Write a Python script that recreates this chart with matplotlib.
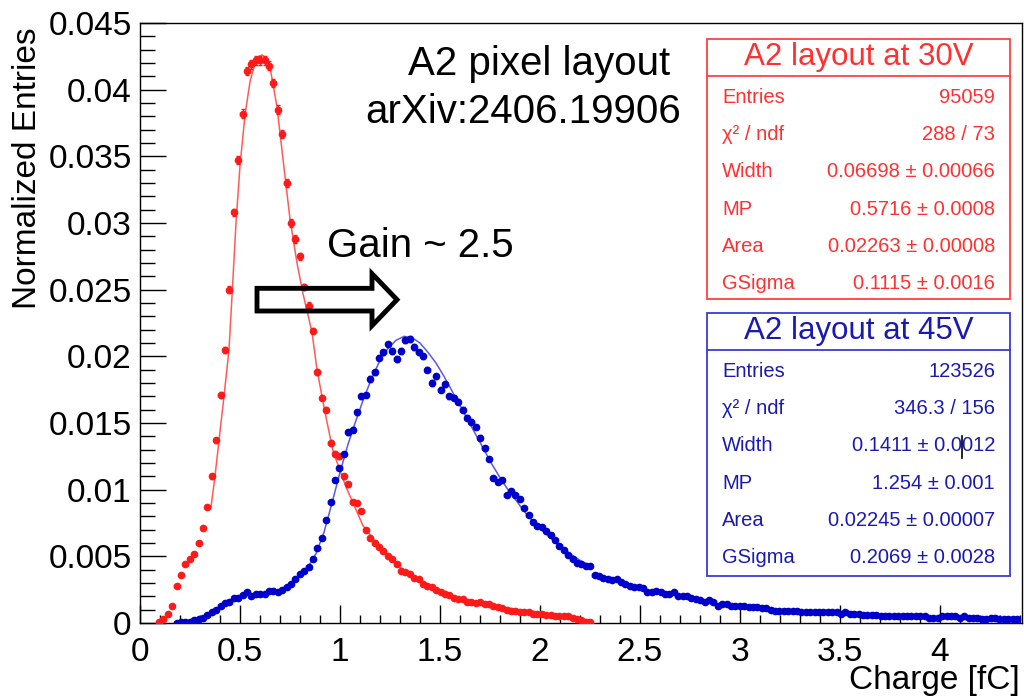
import numpy as np
import matplotlib
matplotlib.use("Agg")
import matplotlib.pyplot as plt
from matplotlib.patches import Rectangle, FancyArrow
from matplotlib.lines import Line2D
from matplotlib.ticker import MultipleLocator

plt.rcParams['font.family'] = ['Liberation Sans', 'DejaVu Sans']

# histogram binning (bin centres c_k = first_center + k * bin_width)
first_center = 0.095
bin_width = 0.022

# A2 layout at 30V, normalized entries, starting at bin k=0
red_start = 0
red_y = [
    0.0001, 0.0003, 0.0007, 0.0013, 0.0028, 0.0036, 0.0044, 0.0048, 0.0052, 0.0060,
    0.0071, 0.0087, 0.0110, 0.0137, 0.0171, 0.0205, 0.0250, 0.0308, 0.0347, 0.0382,
    0.0414, 0.0419, 0.0422, 0.0422, 0.0422, 0.0418, 0.0405, 0.0385, 0.0367, 0.0330,
    0.0300, 0.0288, 0.0275, 0.0252, 0.0238, 0.0219, 0.0188, 0.0169, 0.0160, 0.0135,
    0.0127, 0.0125, 0.0110, 0.0104, 0.0091, 0.0090, 0.0084, 0.0070, 0.0064, 0.0060,
    0.0057, 0.0054, 0.0050, 0.0048, 0.0044, 0.0039, 0.0038, 0.0037, 0.0034, 0.0033,
    0.0029, 0.0028, 0.0027, 0.0025, 0.0023, 0.0022, 0.0021, 0.0019, 0.0018, 0.0018,
    0.0016, 0.0016, 0.0015, 0.0016, 0.0014, 0.0014, 0.0013, 0.0012, 0.0011, 0.0010,
    0.0009, 0.0009, 0.0008, 0.0008, 0.0008, 0.0007, 0.0007, 0.0007, 0.0006, 0.0006,
    0.0005, 0.0005, 0.0005, 0.0005, 0.0004, 0.0003, 0.0002, 0.0001, 0.0001,
]

# A2 layout at 45V, starting at bin k=4
blue_start = 4
blue_y = [
    0.0000, 0.0001, 0.0001, 0.0001, 0.0002, 0.0003, 0.0004, 0.0006, 0.0008, 0.0010,
    0.0013, 0.0015, 0.0016, 0.0019, 0.0019, 0.0021, 0.0023, 0.0020, 0.0022, 0.0022,
    0.0022, 0.0024, 0.0024, 0.0023, 0.0025, 0.0027, 0.0029, 0.0033, 0.0037, 0.0039,
    0.0042, 0.0048, 0.0056, 0.0064, 0.0077, 0.0091, 0.0107, 0.0116, 0.0127, 0.0143,
    0.0145, 0.0158, 0.0170, 0.0171, 0.0183, 0.0188, 0.0199, 0.0203, 0.0209, 0.0204,
    0.0198, 0.0204, 0.0212, 0.0213, 0.0207, 0.0203, 0.0200, 0.0190, 0.0180, 0.0185,
    0.0175, 0.0179, 0.0170, 0.0169, 0.0166, 0.0160, 0.0154, 0.0151, 0.0147, 0.0139,
    0.0131, 0.0123, 0.0109, 0.0106, 0.0107, 0.0096, 0.0099, 0.0096, 0.0093, 0.0086,
    0.0081, 0.0076, 0.0073, 0.0072, 0.0069, 0.0066, 0.0062, 0.0058, 0.0055, 0.0051,
    0.0048, 0.0045, 0.0044, 0.0043, 0.0043, 0.0036, 0.0035, 0.0034, 0.0033, 0.0032,
    0.0033, 0.0031, 0.0029, 0.0028, 0.0027, 0.0027, 0.0026, 0.0023, 0.0023, 0.0024,
    0.0023, 0.0022, 0.0022, 0.0023, 0.0020, 0.0020, 0.0020, 0.0019, 0.0018, 0.0017,
    0.0016, 0.0017, 0.0016, 0.0013, 0.0014, 0.0014, 0.0013, 0.0013, 0.0013, 0.0013,
    0.0012, 0.0012, 0.0012, 0.0011, 0.0011, 0.0010, 0.0009, 0.0009, 0.0009, 0.0009,
    0.0009, 0.0009, 0.0008, 0.0008, 0.0008, 0.0008, 0.0008, 0.0008, 0.0008, 0.0008,
    0.0008, 0.0007, 0.0008, 0.0007, 0.0007, 0.0007, 0.0006, 0.0006, 0.0006, 0.0006,
    0.0005, 0.0005, 0.0005, 0.0005, 0.0005, 0.0005, 0.0005, 0.0005, 0.0005, 0.0005,
    0.0005, 0.0004, 0.0004, 0.0004, 0.0005, 0.0005, 0.0005, 0.0005, 0.0004, 0.0005,
    0.0004, 0.0004, 0.0004, 0.0003, 0.0003, 0.0004, 0.0004, 0.0003, 0.0003, 0.0003,
    0.0003, 0.0003,
]

# fitted Landau x Gauss curves
red_fit_x = [0.355, 0.375, 0.395, 0.42, 0.445, 0.46, 0.48, 0.50, 0.525, 0.55, 0.575,
             0.595, 0.61, 0.63, 0.65, 0.685, 0.725, 0.75, 0.785, 0.815, 0.86, 0.885,
             0.925, 0.965, 1.03, 1.115, 1.215, 1.335, 1.435, 1.55, 1.7, 1.85, 2.0]
red_fit_y = [0.0087, 0.0110, 0.0137, 0.0170, 0.0205, 0.0245, 0.0300, 0.0343, 0.0381,
             0.0406, 0.0420, 0.0425, 0.0426, 0.0424, 0.0417, 0.0387, 0.0335, 0.0303,
             0.0270, 0.0247, 0.0218, 0.0190, 0.0158, 0.0129, 0.0102, 0.0073, 0.0054,
             0.0037, 0.0028, 0.0021, 0.0015, 0.0011, 0.0008]

blue_fit_x = [0.84, 0.88, 0.92, 0.96, 1.00, 1.04, 1.08, 1.12, 1.16, 1.20, 1.24, 1.28,
              1.32, 1.36, 1.40, 1.44, 1.48, 1.52, 1.56, 1.60, 1.64, 1.68, 1.72, 1.76,
              1.80, 1.84, 1.88, 1.92, 1.96, 2.00, 2.05, 2.10, 2.15, 2.20, 2.25]
blue_fit_y = [0.0042, 0.0052, 0.0068, 0.0090, 0.0113, 0.0134, 0.0152, 0.0169, 0.0184,
              0.0197, 0.0206, 0.0212, 0.0215, 0.0214, 0.0210, 0.0203, 0.0195, 0.0185,
              0.0174, 0.0163, 0.0152, 0.0141, 0.0130, 0.0119, 0.0109, 0.0100, 0.0092,
              0.0084, 0.0077, 0.0071, 0.0064, 0.0058, 0.0052, 0.0047, 0.0043]

red_title = "A2 layout at 30V"
blue_title = "A2 layout at 45V"
stat_names = ["Entries", "χ² / ndf", "Width", "MP", "Area", "GSigma"]
red_stats = ["95059", "288 / 73", "0.06698 ± 0.00066", "0.5716 ± 0.0008",
             "0.02263 ± 0.00008", "0.1115 ± 0.0016"]
blue_stats = ["123526", "346.3 / 156", "0.1411 ± 0.0012", "1.254 ± 0.001",
              "0.02245 ± 0.00007", "0.2069 ± 0.0028"]
red_entries = 95059
blue_entries = 123526

RED = '#ff1a1a'
BLUE = '#0000cc'

W, H = 1024, 697
fig = plt.figure(figsize=(W / 100, H / 100), dpi=100)


def fx(px):
    return px / W


def fy(py):
    return 1 - py / H


ax = fig.add_axes([fx(140), fy(623), (1022 - 140) / W, (623 - 23) / H])


def centers(start, n):
    return first_center + bin_width * (start + np.arange(n))


rx = centers(red_start, len(red_y))
bx = centers(blue_start, len(blue_y))
ry = np.array(red_y)
by = np.array(blue_y)
# statistical errors of the normalized bins
rerr = 0.5 * np.sqrt(ry / red_entries)
berr = 0.5 * np.sqrt(by / blue_entries)

ax.plot(red_fit_x, red_fit_y, color='#ff5a5a', lw=1.1, zorder=2)
ax.plot(blue_fit_x, blue_fit_y, color='#5a5ae0', lw=1.1, zorder=2)
ax.errorbar(rx, ry, yerr=rerr, xerr=bin_width / 2, fmt='o', color=RED, ms=4.5,
            elinewidth=1, capsize=1.5, zorder=3)
ax.errorbar(bx, by, yerr=berr, xerr=bin_width / 2, fmt='o', color=BLUE, ms=4.5,
            elinewidth=1, capsize=1.5, zorder=3)

ax.set_xlim(0, 4.41)
ax.set_ylim(0, 0.045)
ax.xaxis.set_major_locator(MultipleLocator(0.5))
ax.xaxis.set_minor_locator(MultipleLocator(0.1))
ax.yaxis.set_major_locator(MultipleLocator(0.005))
ax.yaxis.set_minor_locator(MultipleLocator(0.001))
ax.xaxis.set_major_formatter(plt.FuncFormatter(lambda v, p: f"{v:g}"))
ax.yaxis.set_major_formatter(plt.FuncFormatter(lambda v, p: f"{v:g}"))
ax.tick_params(which='both', direction='in', width=1, labelsize=24, top=False, right=False)
ax.tick_params(axis='y', which='major', length=19, pad=6)
ax.tick_params(axis='y', which='minor', length=11)
ax.tick_params(axis='x', which='major', length=13, pad=10)
ax.tick_params(axis='x', which='minor', length=6)
for sp in ax.spines.values():
    sp.set_linewidth(1)

ax.set_xlabel("Charge [fC]", fontsize=24, loc='right')
ax.xaxis.set_label_coords(0.998, -0.07)
ax.set_ylabel("Normalized Entries", fontsize=24, loc='top')
ax.yaxis.set_label_coords(-0.11, 0.992)

# text annotations
fig.text(fx(408), fy(75), "A2 pixel layout", fontsize=29, va='baseline')
fig.text(fx(365), fy(123), "arXiv:2406.19906", fontsize=29, va='baseline')
fig.text(fx(327), fy(257), "Gain ~ 2.5", fontsize=29, va='baseline')

# hollow arrow
ax.add_patch(FancyArrow(0.585, 0.02425, 0.70, 0, width=0.0017, head_width=0.0039,
                        head_length=0.125, length_includes_head=True,
                        fill=False, edgecolor='black', lw=3.5, zorder=5))


def stats_box(top, bottom, title, values, color, textcolor):
    left, right = 707, 1010
    fig.patches.append(Rectangle((fx(left), fy(bottom)), fx(right - left),
                                 (bottom - top) / H, transform=fig.transFigure,
                                 facecolor='white', edgecolor=color, lw=1.3, zorder=10))
    fig.lines.append(Line2D([fx(left), fx(right)], [fy(top + 37), fy(top + 37)],
                            transform=fig.transFigure, color=color, lw=1.3, zorder=11))
    fig.text(fx((left + right) / 2), fy(top + 26), title, fontsize=22.5, color=textcolor,
             ha='center', va='baseline', zorder=12)
    for i, (name, val) in enumerate(zip(stat_names, values)):
        yb = top + 64 + i * 37.2
        fig.text(fx(722), fy(yb), name, fontsize=14.5, color=textcolor, va='baseline', zorder=12)
        fig.text(fx(995), fy(yb), val, fontsize=14.5, color=textcolor, ha='right',
                 va='baseline', zorder=12)


stats_box(39, 299, red_title, red_stats, '#ff4040', '#ff3030')
stats_box(313, 576, blue_title, blue_stats, '#3a3ad8', '#1a1ab0')

# text cursor visible in the original screenshot
fig.lines.append(Line2D([fx(962), fx(962)], [fy(436), fy(458)], transform=fig.transFigure,
                        color='black', lw=1.2, zorder=13))

fig.savefig("out.png", dpi=100)
